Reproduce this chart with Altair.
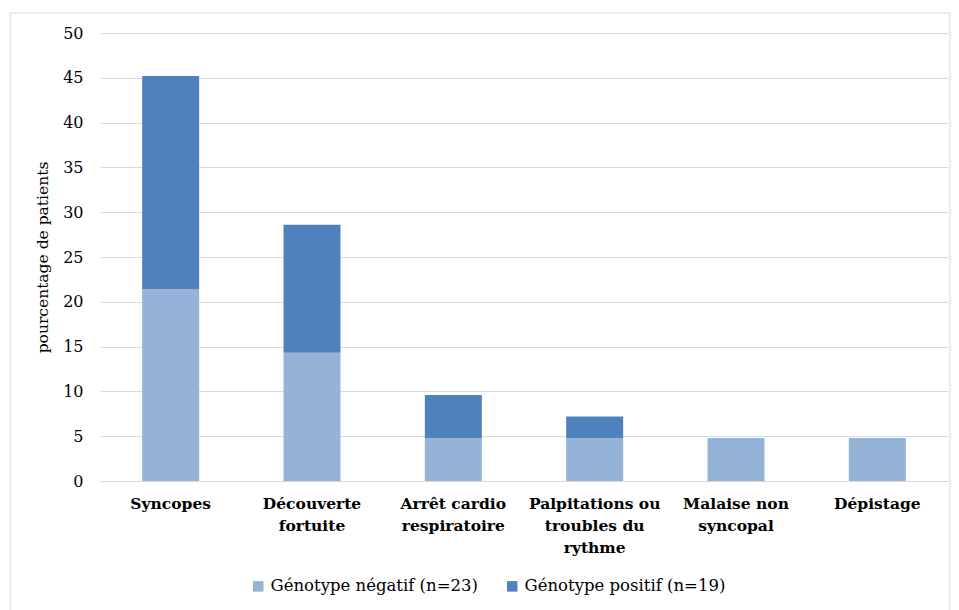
import altair as alt
import pandas as pd

categories = ["Syncopes", "Découverte\nfortuite", "Arrêt cardio\nrespiratoire",
              "Palpitations ou\ntroubles du\nrythme", "Malaise non\nsyncopal", "Dépistage"]
negatif = [21.4, 14.3, 4.8, 4.8, 4.8, 4.8]
positif = [23.8, 14.3, 4.8, 2.4, 0.0, 0.0]
series = ["Génotype négatif (n=23)", "Génotype positif (n=19)"]
colors = ["#95B3D7", "#4F81BD"]
y_ticks = [0, 5, 10, 15, 20, 25, 30, 35, 40, 45, 50]

rows = []
for c, n, p in zip(categories, negatif, positif):
    rows.append({"cat": c, "serie": series[0], "val": n, "ord": 0})
    rows.append({"cat": c, "serie": series[1], "val": p, "ord": 1})
df = pd.DataFrame(rows)

FONT = "DejaVu Serif"

bars = alt.Chart(df).mark_bar(width=57).encode(
    x=alt.X("cat:N", sort=categories, title=None,
            axis=alt.Axis(labelAngle=0, labelFontWeight="bold", labelFontSize=15.5,
                          labelPadding=15, labelLineHeight=22,
                          labelExpr="split(datum.value, '\\n')", ticks=False,
                          domainColor="#D9D9D9", labelBaseline="top", labelLimit=200)),
    y=alt.Y("val:Q", stack="zero", title="pourcentage de patients",
            scale=alt.Scale(domain=[0, 50], nice=False),
            axis=alt.Axis(values=y_ticks, labelFontSize=16, titleFontSize=15.5,
                          titleFontWeight="normal",
                          ticks=False, domain=False, labelPadding=17,
                          titlePadding=12, gridColor="#D9D9D9")),
    color=alt.Color("serie:N", scale=alt.Scale(domain=series, range=colors),
                    legend=alt.Legend(title=None, orient="none", direction="horizontal",
                                      legendX=150, legendY=545, labelFontSize=16.5,
                                      symbolType="square", symbolSize=110, symbolStrokeWidth=0,
                                      columnPadding=26, labelLimit=300, labelOffset=4)),
    order=alt.Order("ord:Q"),
)

frame = alt.Chart(pd.DataFrame({"a": [0]})).mark_rect(
    fill=None, stroke="#D9D9D9", strokeWidth=1
).encode(x=alt.value(-90), x2=alt.value(850), y=alt.value(-20), y2=alt.value(600))

chart = alt.layer(bars, frame).properties(
    width=848, height=448,
    autosize=alt.AutoSizeParams(type="none"),
    padding={"left": 92, "top": 25, "right": 3, "bottom": 130},
).configure(background="white", font=FONT).configure_view(stroke=None).configure_axis(
    labelFont=FONT, titleFont=FONT, labelColor="#000000", titleColor="#000000"
).configure_legend(labelFont=FONT, labelColor="#000000")

chart.save("out.html", embed_options={"renderer": "svg", "actions": False})
